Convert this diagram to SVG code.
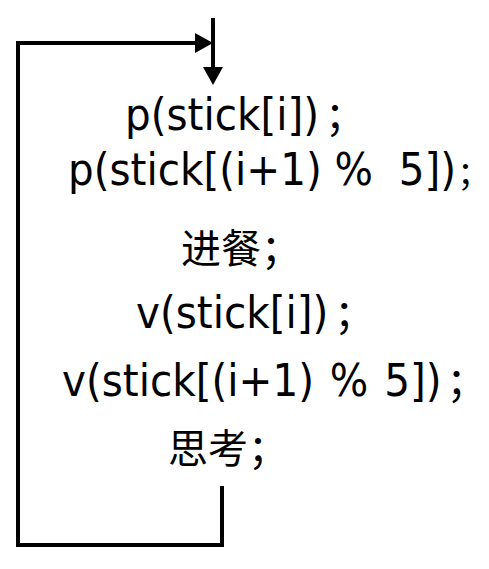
<svg xmlns="http://www.w3.org/2000/svg" width="489" height="569" viewBox="0 0 489 569">
<style>
.lat{font-family:"DejaVu Sans Condensed","DejaVu Sans","Noto Sans CJK SC",sans-serif;font-stretch:condensed;font-size:45px;word-spacing:3px;fill:#000;white-space:pre}
.cjk{font-family:"Noto Sans CJK SC",sans-serif;font-size:40px;fill:#000}
.semi{font-family:"Noto Sans CJK SC",sans-serif;font-size:40px}
.ln{fill:none;stroke:#000;stroke-width:4;stroke-linejoin:miter}
</style>
<defs>
<marker id="ah" viewBox="0 0 18 20" refX="0" refY="10" markerWidth="18" markerHeight="20" markerUnits="userSpaceOnUse" orient="auto">
<path d="M0,0 L18,10 L0,20 z" fill="#000"/>
</marker>
</defs>
<g id="connectors">
<path class="ln" d="M222,486 V545 H18 V43 H195" marker-end="url(#ah)"/>
<path class="ln" d="M213,18 V67" marker-end="url(#ah)"/>
</g>
<g id="n1"><text class="lat" x="125" y="130">p(stick[i])<tspan class="semi" dx="6">；</tspan></text></g>
<g id="n2"><text class="lat" x="68" y="185" style="word-spacing:0">p(stick[(i+1) %  5])<tspan class="semi" style="font-size:33px" dx="1">；</tspan></text></g>
<g id="n3"><text class="cjk" x="181" y="263">进餐；</text></g>
<g id="n4"><text class="lat" x="136" y="328">v(stick[i])<tspan class="semi" dx="6">；</tspan></text></g>
<g id="n5"><text class="lat" x="62" y="396">v(stick[(i+1) % 5])<tspan class="semi" dx="5">；</tspan></text></g>
<g id="n6"><text class="cjk" x="168" y="463">思考；</text></g>
</svg>
